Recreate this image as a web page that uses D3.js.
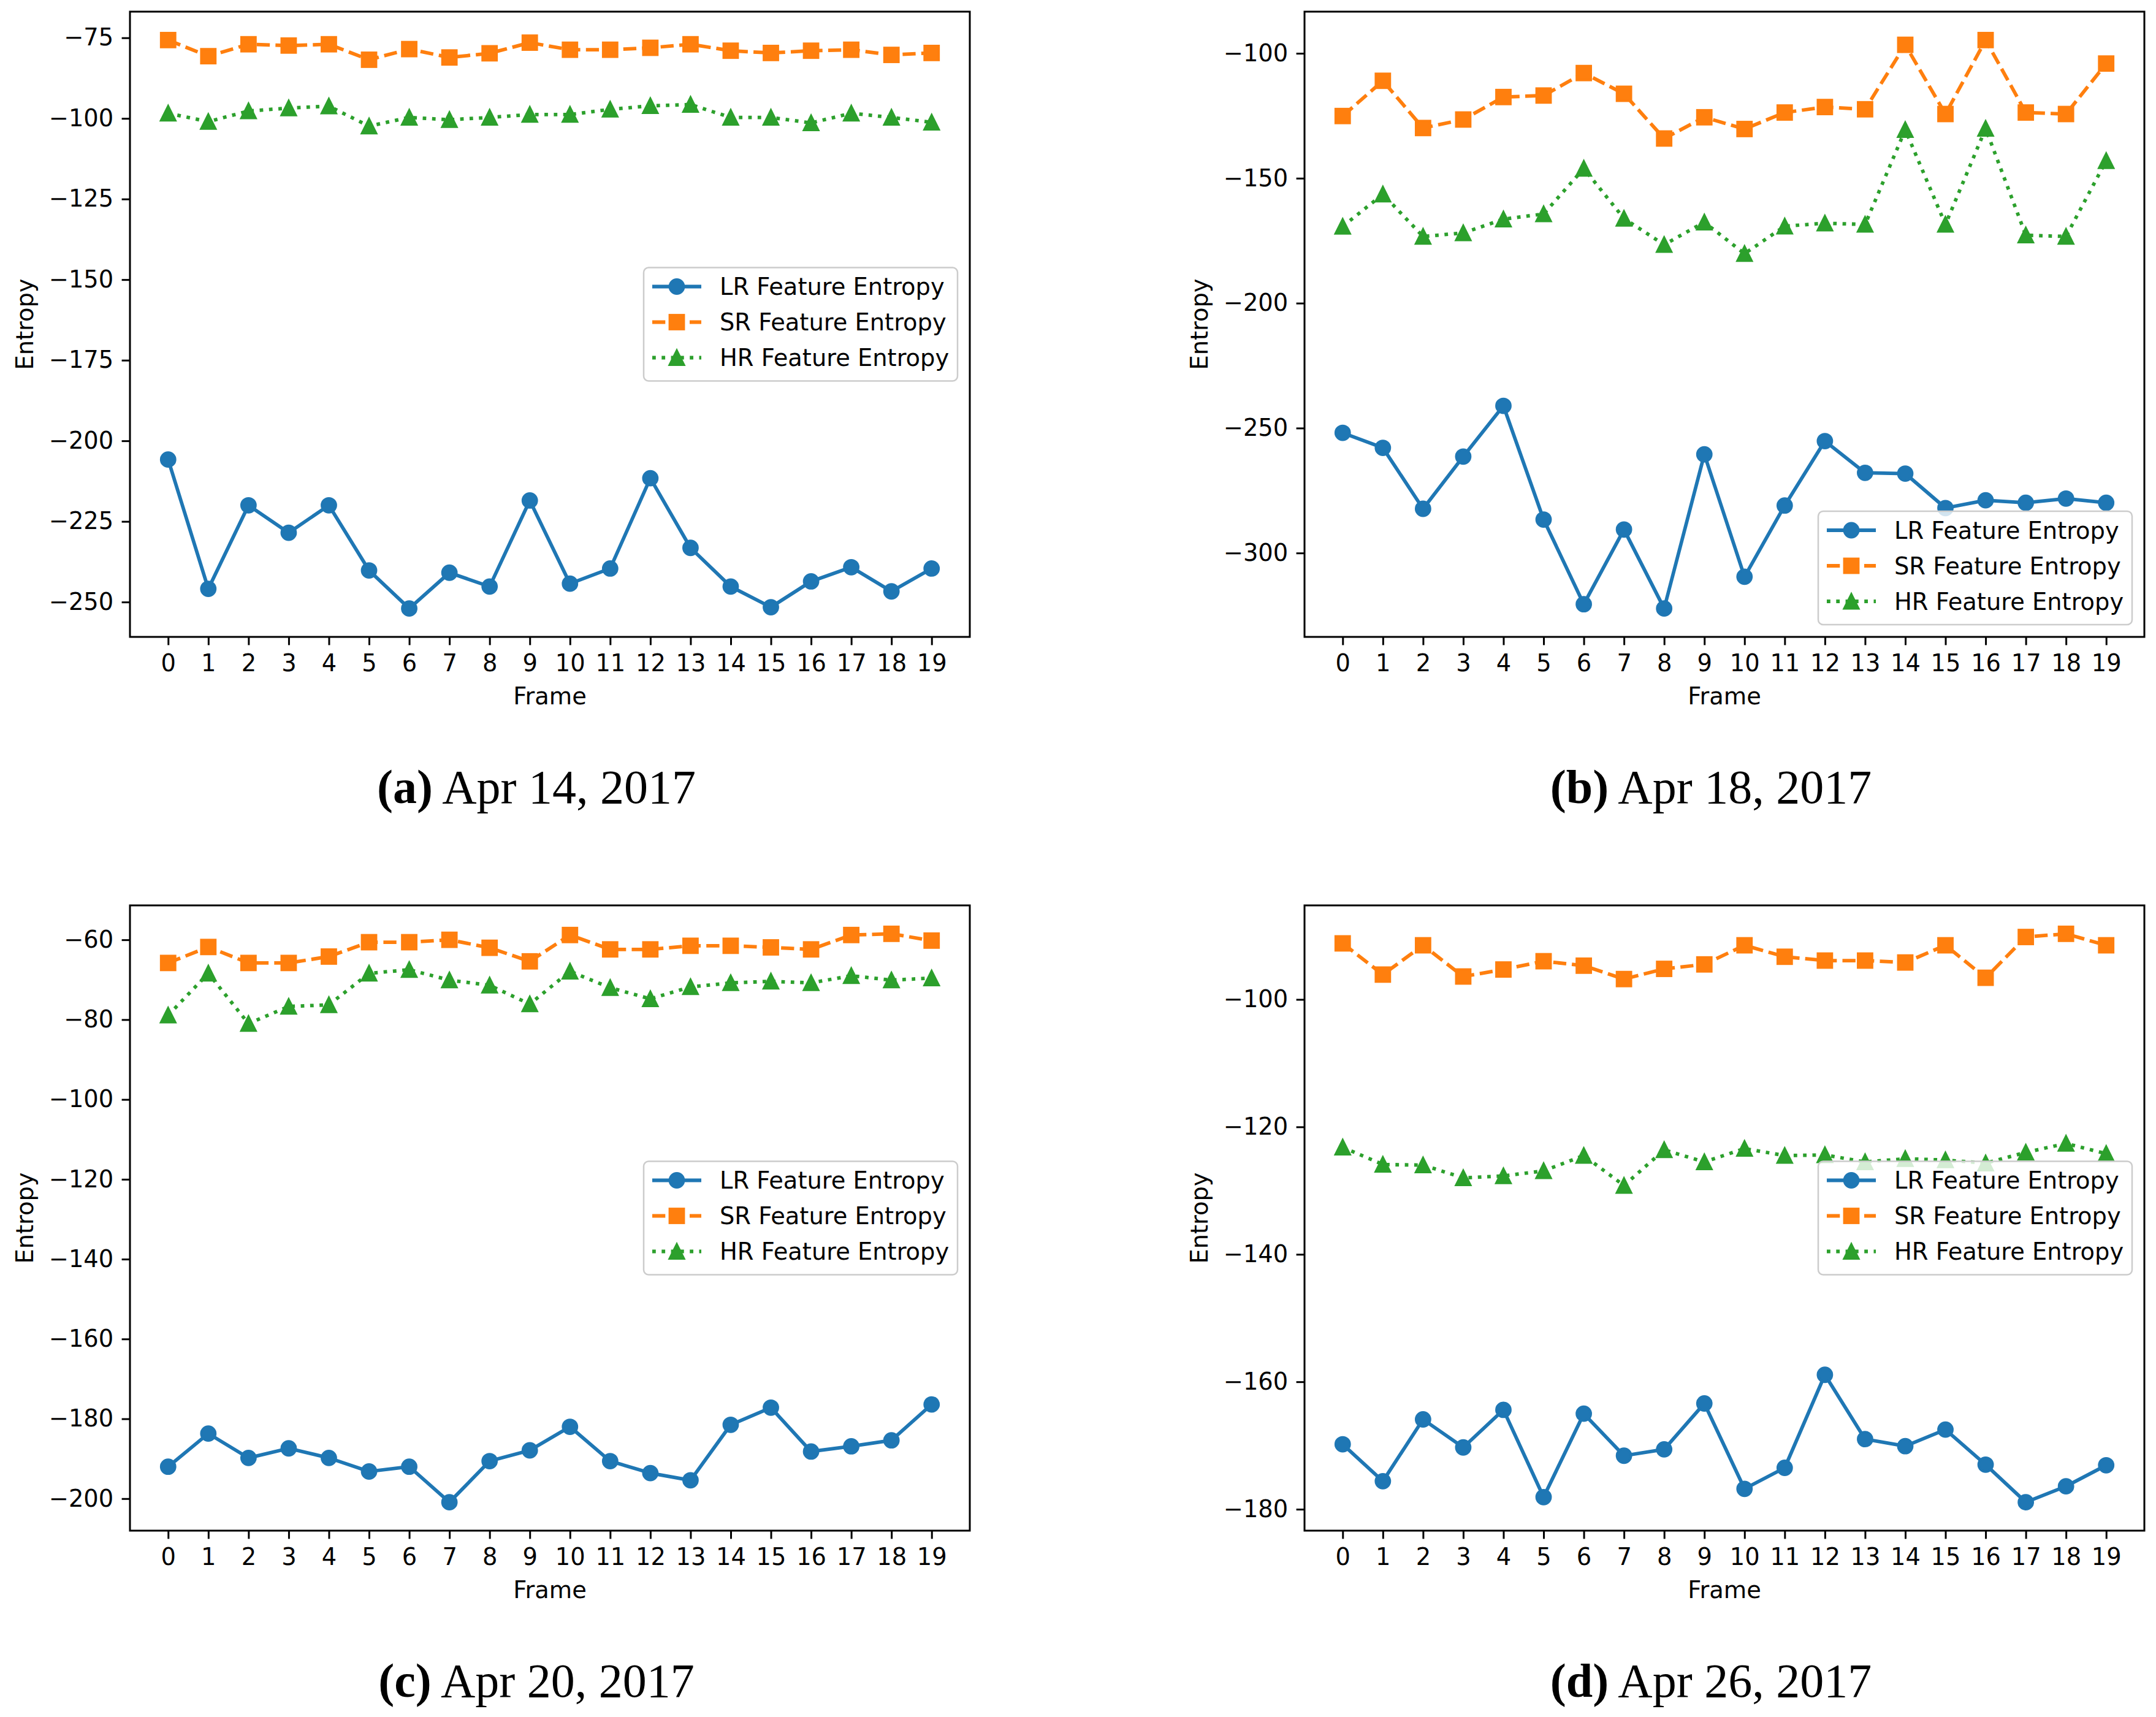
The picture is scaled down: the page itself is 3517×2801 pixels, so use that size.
<!DOCTYPE html>
<html>
<head>
<meta charset="utf-8">
<script src="https://cdn.jsdelivr.net/npm/d3@7"></script>
<style>
body { margin: 0; background: #fff; }
</style>
</head>
<body>
<svg id="fig" width="3517" height="2801"></svg>
<script>
// frame index on the x axis
var frames = [0, 1, 2, 3, 4, 5, 6, 7, 8, 9, 10, 11, 12, 13, 14, 15, 16, 17, 18, 19];
var seriesNames = ["LR Feature Entropy", "SR Feature Entropy", "HR Feature Entropy"];

// (a) Apr 14, 2017
var lrA = [-205.8, -245.9, -220.0, -228.5, -220.0, -240.2, -252.0, -240.9, -245.2, -218.5,
    -244.3, -239.6, -211.6, -233.2, -245.2, -251.6, -243.6, -239.2, -246.7, -239.6];
var srA = [-75.7, -80.7, -77.0, -77.4, -77.0, -81.8, -78.5, -81.1, -79.8, -76.5,
    -78.7, -78.7, -78.1, -77.0, -79.0, -79.7, -79.0, -78.7, -80.3, -79.7];
var hrA = [-98.4, -101.0, -97.7, -96.8, -96.2, -102.4, -99.7, -100.4, -99.7, -98.8,
    -98.8, -97.2, -96.1, -95.7, -99.7, -99.7, -101.4, -98.4, -99.7, -101.2];
var ticksA = [-250, -225, -200, -175, -150, -125, -100, -75];

// (b) Apr 18, 2017
var lrB = [-251.9, -257.9, -282.3, -261.4, -241.1, -286.6, -320.5, -290.6, -322.2, -260.5,
    -309.5, -281.0, -255.2, -267.9, -268.2, -282.0, -278.9, -279.9, -278.2, -279.9];
var srB = [-125.1, -111.0, -129.9, -126.5, -117.5, -116.9, -107.9, -116.2, -134.1, -125.6,
    -130.3, -123.7, -121.5, -122.4, -96.6, -124.3, -94.7, -123.7, -124.3, -104.1];
var hrB = [-169.3, -156.4, -173.3, -171.9, -166.4, -164.3, -146.1, -166.1, -176.6, -167.6,
    -180.2, -169.2, -168.0, -168.5, -130.6, -168.5, -130.1, -172.8, -173.3, -143.0];
var ticksB = [-300, -250, -200, -150, -100];

// (c) Apr 20, 2017
var lrC = [-192.0, -183.7, -189.8, -187.4, -189.8, -193.2, -192.0, -200.9, -190.6, -187.9,
    -182.0, -190.6, -193.6, -195.4, -181.5, -177.2, -188.2, -186.9, -185.4, -176.4];
var srC = [-65.8, -61.8, -65.8, -65.8, -64.2, -60.6, -60.6, -60.0, -62.0, -65.4,
    -58.8, -62.4, -62.4, -61.5, -61.5, -61.9, -62.4, -58.8, -58.5, -60.2];
var hrC = [-78.9, -68.4, -81.0, -76.7, -76.3, -68.4, -67.5, -70.1, -71.4, -76.1,
    -67.9, -72.0, -74.8, -71.8, -70.8, -70.4, -70.8, -69.0, -70.1, -69.6];
var ticksC = [-200, -180, -160, -140, -120, -100, -80, -60];

// (d) Apr 26, 2017
var lrD = [-169.8, -175.6, -165.9, -170.3, -164.4, -178.1, -165.0, -171.6, -170.6, -163.4,
    -176.8, -173.5, -158.9, -169.0, -170.1, -167.5, -173.0, -178.9, -176.4, -173.1];
var srD = [-91.2, -96.1, -91.5, -96.4, -95.3, -94.0, -94.7, -96.8, -95.2, -94.5,
    -91.5, -93.3, -93.9, -93.9, -94.2, -91.5, -96.6, -90.2, -89.7, -91.5];
var hrD = [-123.2, -125.9, -126.0, -128.0, -127.7, -126.9, -124.5, -129.2, -123.6, -125.5,
    -123.4, -124.5, -124.4, -125.5, -125.0, -125.2, -125.7, -124.0, -122.6, -124.2];
var ticksD = [-180, -160, -140, -120, -100];

var panels = [
    {tag: "(a)", date: "Apr 14, 2017", series: [lrA, srA, hrA], ticks: ticksA, legend: "center", left: 212, top: 19, capX: 875, capY: 1310},
    {tag: "(b)", date: "Apr 18, 2017", series: [lrB, srB, hrB], ticks: ticksB, legend: "lower", left: 2128, top: 19, capX: 2791, capY: 1310},
    {tag: "(c)", date: "Apr 20, 2017", series: [lrC, srC, hrC], ticks: ticksC, legend: "center", left: 212, top: 1477, capX: 875, capY: 2768},
    {tag: "(d)", date: "Apr 26, 2017", series: [lrD, srD, hrD], ticks: ticksD, legend: "center", left: 2128, top: 1477, capX: 2791, capY: 2768}
];

var W = 1370, H = 1020;
var fs = 38.4;              // 10pt at this scale
var lw = 5.76;              // 1.5pt
var ms = 23;                // marker size 6pt
var sansFont = "'DejaVu Sans', sans-serif";
var serifFont = "'Liberation Serif', serif";
var colors = ["#1f77b4", "#ff7f0e", "#2ca02c"];
var dashes = [null, "21.3,9.2", "5.8,9.5"];
var shapes = ["circle", "square", "triangle"];

var svg = d3.select("#fig");
svg.append("rect").attr("width", 3517).attr("height", 2801).attr("fill", "#fff");

function marker(sel, shape, color) {
    var h = ms / 2;
    if (shape === "circle") {
        sel.append("circle").attr("r", h);
    } else if (shape === "square") {
        sel.append("rect").attr("x", -h).attr("y", -h).attr("width", ms).attr("height", ms);
    } else {
        sel.append("path").attr("d", "M0," + (-h) + "L" + (-h) + "," + h + "L" + h + "," + h + "Z");
    }
    sel.selectAll("*")
        .attr("fill", color)
        .attr("stroke", color)
        .attr("stroke-width", 3.8)
        .attr("stroke-linejoin", shape === "circle" ? "round" : "miter");
}

panels.forEach(function (p) {
    var g = svg.append("g").attr("transform", "translate(" + p.left + "," + p.top + ")");

    var all = d3.merge(p.series);
    var ext = d3.extent(all);
    var pad = (ext[1] - ext[0]) * 0.05;
    var xPad = (frames[frames.length - 1] - frames[0]) * 0.05;

    var x = d3.scaleLinear()
        .domain([frames[0] - xPad, frames[frames.length - 1] + xPad])
        .range([0, W]);
    var y = d3.scaleLinear()
        .domain([ext[0] - pad, ext[1] + pad])
        .range([H, 0]);

    var xAxis = g.append("g")
        .attr("transform", "translate(0," + H + ")")
        .call(d3.axisBottom(x).tickValues(frames).tickSize(13.4).tickPadding(15).tickFormat(d3.format("d")));
    var yAxis = g.append("g")
        .call(d3.axisLeft(y).tickValues(p.ticks).tickSize(13.4).tickPadding(13.4).tickFormat(d3.format("d")));

    [xAxis, yAxis].forEach(function (a) {
        a.select(".domain").remove();
        a.selectAll(".tick line").attr("stroke", "#000").attr("stroke-width", 3);
        a.selectAll(".tick text")
            .attr("font-size", fs)
            .style("font-family", sansFont)
            .attr("fill", "#000");
    });

    g.append("text")
        .attr("x", W / 2)
        .attr("y", H + 110)
        .attr("text-anchor", "middle")
        .attr("font-size", fs)
        .style("font-family", sansFont)
        .text("Frame");

    g.append("text")
        .attr("transform", "translate(-158," + (H / 2) + ") rotate(-90)")
        .attr("text-anchor", "middle")
        .attr("font-size", fs)
        .style("font-family", sansFont)
        .text("Entropy");

    var line = d3.line()
        .x(function (d, i) { return x(frames[i]); })
        .y(function (d) { return y(d); });

    p.series.forEach(function (vals, k) {
        g.append("path")
            .datum(vals)
            .attr("d", line)
            .attr("fill", "none")
            .attr("stroke", colors[k])
            .attr("stroke-width", lw)
            .attr("stroke-linejoin", "round")
            .attr("stroke-dasharray", dashes[k]);

        g.selectAll(".m" + k)
            .data(vals)
            .enter()
            .append("g")
            .attr("class", "m" + k)
            .attr("transform", function (d, i) { return "translate(" + x(frames[i]) + "," + y(d) + ")"; })
            .each(function () { marker(d3.select(this), shapes[k], colors[k]); });
    });

    g.append("rect")
        .attr("width", W)
        .attr("height", H)
        .attr("fill", "none")
        .attr("stroke", "#000")
        .attr("stroke-width", 3);

    // legend
    var lgW = 512, lgH = 185;
    var lgX = W - 20 - lgW;
    var lgY = p.legend === "lower" ? H - 20 - lgH : (H - lgH) / 2;
    var lg = g.append("g").attr("transform", "translate(" + lgX + "," + lgY + ")");
    lg.append("rect")
        .attr("width", lgW)
        .attr("height", lgH)
        .attr("rx", 8)
        .attr("fill", "#fff")
        .attr("fill-opacity", 0.8)
        .attr("stroke", "#cccccc")
        .attr("stroke-width", 2.5);

    seriesNames.forEach(function (name, k) {
        var cy = 31 + k * 58;
        var row = lg.append("g").attr("transform", "translate(14," + cy + ")");
        row.append("line")
            .attr("x1", 0).attr("x2", 80)
            .attr("stroke", colors[k])
            .attr("stroke-width", lw)
            .attr("stroke-dasharray", dashes[k]);
        var mk = row.append("g").attr("transform", "translate(40,0)");
        marker(mk, shapes[k], colors[k]);
        row.append("text")
            .attr("x", 110)
            .attr("dy", "0.36em")
            .attr("font-size", fs)
            .style("font-family", sansFont)
            .text(name);
    });

    // caption
    var cap = svg.append("text")
        .attr("x", p.capX)
        .attr("y", p.capY)
        .attr("text-anchor", "middle")
        .style("font-family", serifFont)
        .attr("font-size", 78);
    cap.append("tspan").attr("font-weight", "bold").text(p.tag);
    cap.append("tspan").text(" " + p.date);
});
</script>
</body>
</html>
